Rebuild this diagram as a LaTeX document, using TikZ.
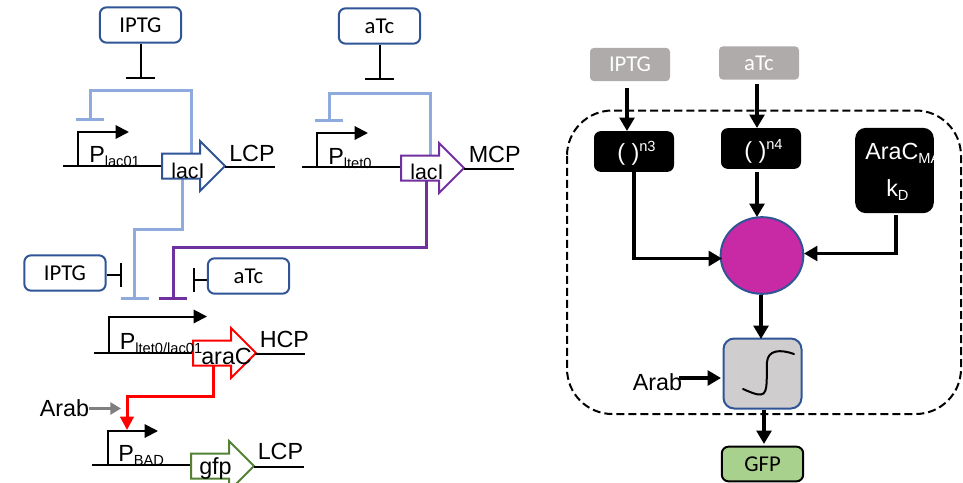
\documentclass[tikz,border=0pt]{standalone}
\usepackage{fontspec}
\setmainfont{Liberation Sans}
\newfontfamily\calib{Carlito}
\usetikzlibrary{arrows.meta,shapes.geometric}
\definecolor{boxblue}{HTML}{2F5597}
\definecolor{ltblue}{HTML}{8FAADC}
\definecolor{purp}{HTML}{7030A0}
\definecolor{grn}{HTML}{548235}
\definecolor{tagray}{HTML}{AFABAB}
\definecolor{arrgray}{HTML}{7F7F7F}
\definecolor{magen}{HTML}{C829A5}
\definecolor{siggray}{HTML}{CFCDCE}
\definecolor{gfpgreen}{HTML}{A9D18E}
\newcommand{\sbs}[1]{\raisebox{-3pt}{\fontsize{11}{11}\selectfont #1}}
\newcommand{\sps}[1]{\raisebox{6.5pt}{\fontsize{11}{11}\selectfont #1}}
\newcommand{\genearrow}[3]{% x of body start, y of axis, colour
  \draw[#3,line width=1.5pt,fill=white,line join=miter]
    (#1,#2-12.5) -- (#1+38,#2-12.5) -- (#1+38,#2-25) -- (#1+63,#2) -- (#1+38,#2+25)
    -- (#1+38,#2+12.5) -- (#1,#2+12.5) -- cycle;}
\tikzset{
  x=.75pt,y=-.75pt,
  inducer/.style={draw=boxblue,line width=1.5pt,rounded corners=5pt,fill=white,
    minimum width=61pt,minimum height=26.5pt,inner sep=0pt,font=\calib\fontsize{17}{17}\selectfont},
  graybox/.style={fill=tagray,rounded corners=3pt,text=white,minimum width=60pt,minimum height=25pt,
    inner sep=0pt,font=\calib\fontsize{17}{17}\selectfont},
  blackbox/.style={fill=black,rounded corners=5pt,minimum width=60pt,minimum height=30.5pt,inner sep=0pt},
  label/.style={anchor=base west,inner sep=0pt,font=\fontsize{17.5}{17.5}\selectfont},
  whitelabel/.style={label,text=white},
  inhibit/.style={line width=1.5pt,-{Bar[width=22pt,line width=1.5pt]}},
  inhibitshort/.style={line width=1.5pt,-{Bar[width=18pt,line width=1.5pt]}},
  regline/.style={line width=2.25pt,line join=miter,-{Bar[width=21pt,line width=2.25pt]}},
  dna/.style={line width=1.5pt},
  promoter/.style={line width=1.5pt,line join=miter,-{Triangle[length=10pt,width=10pt]}},
  flow/.style={line width=2.5pt,line join=miter,-{Triangle[length=10pt,width=11pt]}},
}
\begin{document}
\begin{tikzpicture}
\clip (0,0) rectangle (963,482);
\fill[white] (0,0) rectangle (963,482);

% ---------- left: inducers
\node[inducer] (ip1) at (140.5,25) {IPTG};
\node[inducer] (at1) at (379.5,26) {aTc};
\node[inducer] (ip2) at (65,273) {IPTG};
\node[inducer] (at2) at (248.5,276) {aTc};
\coordinate (ip1t) at (140.5,79);
\coordinate (at1t) at (379.5,80);
\coordinate (ip2t) at (122,275);
\coordinate (at2t) at (193,280);
\draw[inhibit] (ip1) -- (ip1t);
\draw[inhibit] (at1) -- (at1t);
\draw[inhibitshort] (ip2.east |- ip2t) -- (ip2t);
\draw[inhibitshort] (at2.west |- at2t) -- (at2t);

% ---------- regulation lines
\coordinate (a1) at (191,154); \coordinate (a2) at (191,90); \coordinate (a3) at (90,90); \coordinate (a4) at (90,120.5);
\draw[regline,ltblue] (a1) -- (a2) -- (a3) -- (a4);
\coordinate (b1) at (430,156); \coordinate (b2) at (430,93); \coordinate (b3) at (329,93); \coordinate (b4) at (329,122);
\draw[regline,ltblue] (b1) -- (b2) -- (b3) -- (b4);
\coordinate (c1) at (182,179); \coordinate (c2) at (182,229); \coordinate (c3) at (134.5,229); \coordinate (c4) at (134.5,300);
\draw[regline,ltblue] (c1) -- (c2) -- (c3) -- (c4);
\coordinate (d1) at (426,180); \coordinate (d2) at (426,247); \coordinate (d3) at (173,247); \coordinate (d4) at (173,300);
\draw[regline,purp] (d1) -- (d2) -- (d3) -- (d4);
\coordinate (e1) at (213,366); \coordinate (e2) at (213,396); \coordinate (e3) at (127,396); \coordinate (e4) at (127,430);
\draw[line width=2.25pt,red,line join=miter,-{Triangle[length=10pt,width=10pt]}] (e1) -- (e2) -- (e3) -- (e4);

% ---------- DNA 1
\coordinate (p1a) at (63,166); \coordinate (p1b) at (162,166);
\draw[dna] (p1a) -- (p1b);
\coordinate (p1c) at (78,166); \coordinate (p1d) at (78,132); \coordinate (p1e) at (129,132);
\draw[promoter] (p1c) -- (p1d) -- (p1e);
\genearrow{162}{166}{boxblue}
\coordinate (t1a) at (225,167); \coordinate (t1b) at (275,167);
\draw[dna] (t1a) -- (t1b);
\node[label] (p1) at (89,162) {P\sbs{lac01}};
\node[label,font=\fontsize{16}{16}\selectfont] (g1) at (171,178) {lacI};
\node[label] (l1) at (229,161) {LCP};

% ---------- DNA 2
\coordinate (p2a) at (302,167); \coordinate (p2b) at (401,167);
\draw[dna] (p2a) -- (p2b);
\coordinate (p2c) at (317,167); \coordinate (p2d) at (317,133); \coordinate (p2e) at (368,133);
\draw[promoter] (p2c) -- (p2d) -- (p2e);
\genearrow{401}{168}{purp}
\coordinate (t2a) at (464,169); \coordinate (t2b) at (514,169);
\draw[dna] (t2a) -- (t2b);
\node[label] (p2) at (328,164) {P\sbs{ltet0}};
\node[label,font=\fontsize{16}{16}\selectfont] (g2) at (410,179) {lacI};
\node[label] (l2) at (468.5,162) {MCP};

% ---------- DNA 3
\coordinate (p3a) at (94,353); \coordinate (p3b) at (193,353);
\draw[dna] (p3a) -- (p3b);
\coordinate (p3c) at (109,353); \coordinate (p3d) at (109,316.5); \coordinate (p3e) at (207,316.5);
\draw[promoter] (p3c) -- (p3d) -- (p3e);
\genearrow{193}{353}{red}
\coordinate (t3a) at (255,354); \coordinate (t3b) at (305,354);
\draw[dna] (t3a) -- (t3b);
\node[label] (p3) at (119.5,349) {P\sbs{ltet0/lac01}};
\node[label] (g3) at (201,364) {araC};
\node[label] (l3) at (259.5,347) {HCP};

% ---------- Arab
\node[label] (ar1) at (39.5,416) {Arab};
\coordinate (ar1t) at (121,408.5);
\draw[line width=2.25pt,arrgray,-{Triangle[length=8pt,width=9pt]}] (ar1.east |- ar1t) -- (ar1t);

% ---------- DNA 4
\coordinate (p4a) at (92,465); \coordinate (p4b) at (191,465);
\draw[dna] (p4a) -- (p4b);
\coordinate (p4c) at (108,465); \coordinate (p4d) at (108,431); \coordinate (p4e) at (158,431);
\draw[promoter] (p4c) -- (p4d) -- (p4e);
\genearrow{191}{466}{grn}
\coordinate (t4a) at (254,466.5); \coordinate (t4b) at (304,466.5);
\draw[dna] (t4a) -- (t4b);
\node[label] (p4) at (118,461) {P\sbs{BAD}};
\node[label] (g4) at (199,474) {gfp};
\node[label] (l4) at (257.5,459) {LCP};

% ---------- right panel
\draw[line width=1.5pt,dash pattern=on 6pt off 3pt,rounded corners=34pt] (567,110.5) rectangle (961,414);

\node[graybox] (gi) at (630,64.5) {IPTG};
\node[graybox] (ga) at (759,63) {aTc};
\node[blackbox] (n3) at (634,151.5) {};
\node[blackbox] (n4) at (761,148.5) {};
\node[blackbox,minimum width=59pt,minimum height=64pt,rounded corners=8pt] (kd) at (894.5,170.5) {};
\node[whitelabel] (n3t) at (617,160) {( )\sps{n3}};
\node[whitelabel] (n4t) at (744,158) {( )\sps{n4}};
\node[whitelabel] (kd1) at (865,159) {AraC\sbs{MA}};
\node[whitelabel] (kd2) at (886,196) {k\sbs{D}};
\node[ellipse,draw=boxblue,line width=1.5pt,fill=magen,minimum width=62pt,minimum height=57.5pt,inner sep=0pt] (hub) at (762,255.5) {};
\node[draw=boxblue,line width=1.5pt,fill=siggray,rounded corners=8pt,minimum width=58.5pt,minimum height=52.5pt,inner sep=0pt] (sig) at (762.5,373.5) {};
\node[draw=black,line width=1.5pt,fill=gfpgreen,rounded corners=5pt,minimum width=61pt,minimum height=26pt,inner sep=0pt,font=\calib\fontsize{17}{17}\selectfont] (gfp) at (762.5,464) {GFP};
\node[label] (ar2) at (632.5,390) {Arab};

\draw[line width=1.5pt,line cap=round] (743,389) .. controls (750,392) and (756,395) .. (761,394.5) .. controls (769,394) and (766,375) .. (767,362) .. controls (768,350) and (780,349) .. (794,354);

\coordinate (gi1) at (627,88); \coordinate (gi2) at (627,131);
\draw[flow] (gi1) -- (gi2);
\coordinate (ga1) at (757,84); \coordinate (ga2) at (757,128);
\draw[flow] (ga1) -- (ga2);
\coordinate (n31) at (634,171); \coordinate (n32) at (634,258.5); \coordinate (n33) at (722,258.5);
\draw[flow] (n31) -- (n32) -- (n33);
\coordinate (n41) at (757,172); \coordinate (n42) at (757,217);
\draw[flow] (n41) -- (n42);
\coordinate (kd3) at (896,215); \coordinate (kd4) at (896,253.5); \coordinate (kd5) at (804,253.5);
\draw[flow] (kd3) -- (kd4) -- (kd5);
\coordinate (h1) at (761,295); \coordinate (h2) at (761,339);
\draw[flow] (h1) -- (h2);
\coordinate (ar3) at (679,378); \coordinate (ar4) at (721,378);
\draw[flow] (ar3) -- (ar4);
\coordinate (s1) at (764,410); \coordinate (s2) at (764,444);
\draw[flow] (s1) -- (s2);
\end{tikzpicture}
\end{document}
